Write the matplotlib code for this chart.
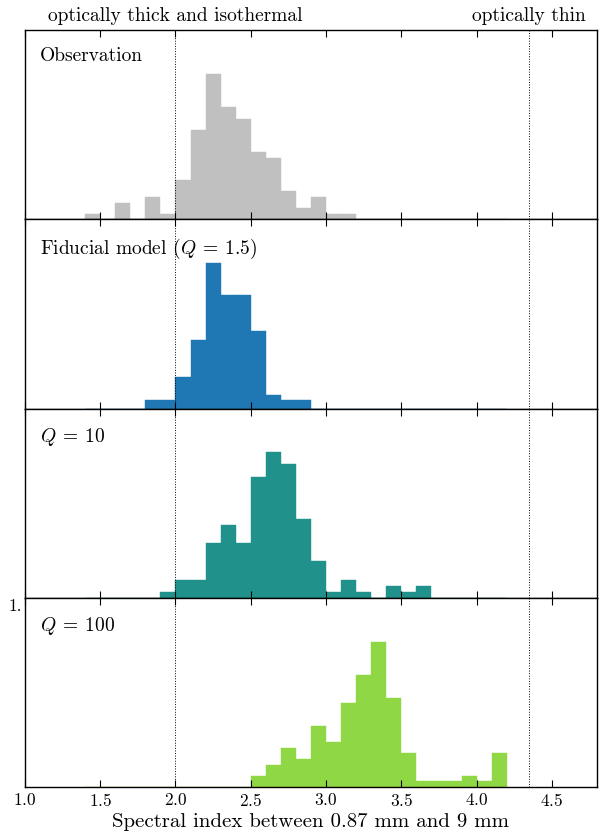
import numpy as np
import matplotlib
matplotlib.use("Agg")
import matplotlib.pyplot as plt

plt.rcParams["font.family"] = ["cmr10", "DejaVu Serif"]
plt.rcParams["mathtext.fontset"] = "cm"
plt.rcParams["axes.formatter.use_mathtext"] = True
plt.rcParams["axes.unicode_minus"] = False

# left edges of the 0.1-wide spectral index bins
bin_left = [1.4, 1.5, 1.6, 1.7, 1.8, 1.9, 2.0, 2.1, 2.2, 2.3, 2.4, 2.5, 2.6, 2.7,
            2.8, 2.9, 3.0, 3.1, 3.2, 3.3, 3.4, 3.5, 3.6, 3.7, 3.8, 3.9, 4.0, 4.1]
bin_width = 0.1

# number of sources per bin
obs_counts = [1, 0, 3, 0, 4, 1, 7, 16, 26, 20, 18, 12, 11, 5,
              2, 4, 1, 1, 0, 0, 0, 0, 0, 0, 0, 0, 0, 0]
fid_counts = [0, 0, 0, 0, 2, 2, 7, 15, 32, 25, 25, 17, 3, 2,
              2, 0, 0, 0, 0, 0, 0, 0, 0, 0, 0, 0, 0, 0]
q10_counts = [0, 0, 0, 0, 0, 1, 3, 3, 9, 12, 9, 20, 24, 22,
              13, 6, 1, 3, 1, 0, 2, 1, 2, 0, 0, 0, 0, 0]
q100_counts = [0, 0, 0, 0, 0, 0, 0, 0, 0, 0, 0, 2, 4, 7,
               5, 11, 8, 15, 20, 26, 16, 6, 1, 1, 1, 2, 1, 6]

panel_labels = ["Observation", r"Fiducial model ($Q\:=\:1.5$)", r"$Q\:=\:10$", r"$Q\:=\:100$"]
panel_colors = ["#c0c0c0", "#1f77b4", "#21918c", "#8fd744"]
all_counts = [obs_counts, fid_counts, q10_counts, q100_counts]

thick_limit = 2.0
thin_limit = 4.35

fig, axes = plt.subplots(4, 1, sharex=True, figsize=(6.08, 8.4), dpi=100)
fig.subplots_adjust(left=0.041, right=0.982, top=0.964, bottom=0.063, hspace=0)

for ax, counts, label, color in zip(axes, all_counts, panel_labels, panel_colors):
    ax.bar(bin_left, counts, width=bin_width, align="edge", color=color,
           edgecolor=color, linewidth=0.3)
    ax.axvline(thick_limit, color="black", ls=":", lw=0.7)
    ax.axvline(thin_limit, color="black", ls=":", lw=0.7)
    ax.set_ylim(0, 1.3 * max(counts))
    ax.set_yticks([])
    ax.text(0.026, 0.91, label, transform=ax.transAxes, ha="left", va="top", fontsize=14)
    ax.tick_params(axis="x", direction="in", top=True, length=5, labelsize=12.5)
    for s in ax.spines.values():
        s.set_linewidth(1.0)

axes[-1].set_xlim(1.0, 4.8)
axes[-1].set_xticks([1.0, 1.5, 2.0, 2.5, 3.0, 3.5, 4.0, 4.5])
axes[-1].set_xlabel("Spectral index between 0.87 mm and 9 mm", fontsize=15, labelpad=3)
axes[-1].text(-0.005, 0.955, "1.", transform=axes[-1].transAxes, ha="right", va="center",
              fontsize=12.5)

axes[0].text(thick_limit, 1.03, "optically thick and isothermal", transform=axes[0].get_xaxis_transform(),
             ha="center", va="bottom", fontsize=14)
axes[0].text(thin_limit, 1.03, "optically thin", transform=axes[0].get_xaxis_transform(),
             ha="center", va="bottom", fontsize=14)

fig.savefig("out.png", dpi=100)
